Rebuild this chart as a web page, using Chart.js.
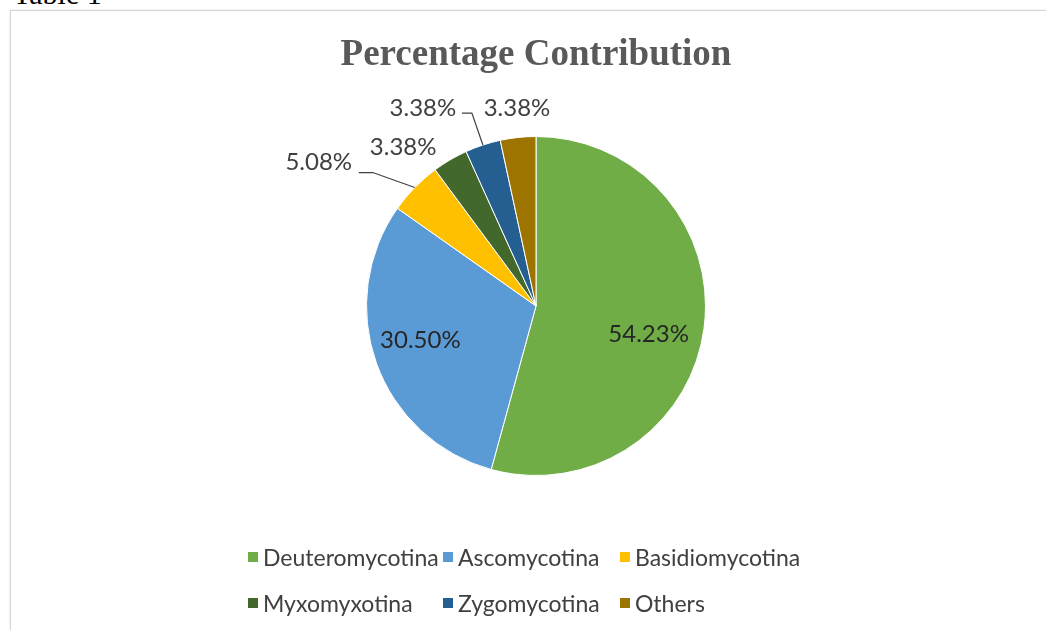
<!DOCTYPE html>
<html>
<head>
<meta charset="utf-8">
<script src="https://cdn.jsdelivr.net/npm/chart.js@4"></script>
<style>
  body { margin: 0; background: #fff; overflow: hidden; }
  #wrap { position: relative; width: 1046px; height: 630px; }
  #caption { position: absolute; left: 13px; top: -23px; font: 30px "Liberation Serif", serif; color: #000; }
  #frame { position: absolute; left: 10px; top: 10px; width: 1060px; height: 660px; border: 1.5px solid #d4d4d4; box-shadow: 0 0 2px #e4e4e4; }
  #pie { position: absolute; left: 0; top: 0; }
  .leg { position: absolute; display: flex; align-items: center; font: 23px Lato, sans-serif; color: #404040; white-space: nowrap; }
  .leg span.box { display: inline-block; width: 10px; height: 10px; margin-right: 5px; }
</style>
</head>
<body>
<div id="wrap">
  <div id="caption">Table 1</div>
  <div id="frame"></div>
  <canvas id="pie" width="1046" height="630"></canvas>
</div>
<script>
const labels = ["Deuteromycotina", "Ascomycotina", "Basidiomycotina", "Myxomyxotina", "Zygomycotina", "Others"];
const values = [54.23, 30.50, 5.08, 3.38, 3.38, 3.38];
const colors = ["#70AD47", "#5B9BD5", "#FFC000", "#43682B", "#255E91", "#9E7400"];

// where each value label sits, measured from the slice
// inside: fraction of radius; outside: offset from the edge point, plus leader line
const labelPlace = [
  { inside: 0.70, dx: -5, dy: 12 },
  { inside: 0.70, dx: -4, dy: -6 },
  { dx: -96, dy: -25, leader: [[-42, -15], [-56, -15]] },
  { dx: -47, dy: -13 },
  { dx: -60, dy: -37, leader: [[-11, -32], [-21, -32]] },
  { dx: -1, dy: -29 }
];

const valueLabels = {
  id: 'valueLabels',
  afterDatasetsDraw(chart) {
    const ctx = chart.ctx;
    const arcs = chart.getDatasetMeta(0).data;
    ctx.save();
    ctx.font = '24px Lato, sans-serif';
    ctx.textAlign = 'center';
    ctx.textBaseline = 'middle';
    arcs.forEach((arc, i) => {
      const p = arc.getProps(['x', 'y', 'startAngle', 'endAngle', 'outerRadius']);
      const mid = (p.startAngle + p.endAngle) / 2;
      const place = labelPlace[i];
      const text = values[i].toFixed(2) + '%';
      if (place.inside) {
        const r = p.outerRadius * place.inside;
        ctx.fillStyle = '#262626';
        ctx.fillText(text, p.x + r * Math.cos(mid) + place.dx, p.y + r * Math.sin(mid) + place.dy);
        return;
      }
      const ex = p.x + p.outerRadius * Math.cos(mid);
      const ey = p.y + p.outerRadius * Math.sin(mid);
      if (place.leader) {
        ctx.strokeStyle = '#404040';
        ctx.lineWidth = 1.2;
        ctx.beginPath();
        ctx.moveTo(ex, ey);
        place.leader.forEach(pt => ctx.lineTo(ex + pt[0], ey + pt[1]));
        ctx.stroke();
      }
      ctx.fillStyle = '#404040';
      ctx.fillText(text, ex + place.dx, ey + place.dy);
    });
    ctx.restore();
  }
};

const chart = new Chart(document.getElementById('pie'), {
  type: 'pie',
  data: {
    labels: labels,
    datasets: [{
      data: values,
      backgroundColor: colors,
      borderColor: '#ffffff',
      borderWidth: 1
    }]
  },
  options: {
    responsive: false,
    animation: false,
    layout: { padding: { top: 33, bottom: 154, left: 26, right: 0 } },
    plugins: {
      legend: { display: false },
      tooltip: { enabled: false },
      title: {
        display: true,
        text: 'Percentage Contribution',
        color: '#595959',
        font: { family: '"Liberation Serif", serif', size: 37, weight: 'bold', lineHeight: 1.2 },
        padding: { top: 0, bottom: 58.6 }
      }
    }
  },
  plugins: [valueLabels]
});

// legend in two rows of three, like the original
const legCols = [248, 443, 620];
const legRows = [557, 603];
labels.forEach((name, i) => {
  const el = document.createElement('div');
  el.className = 'leg';
  el.style.left = legCols[i % 3] + 'px';
  el.style.top = (legRows[Math.floor(i / 3)] - 14) + 'px';
  el.style.height = '28px';
  el.innerHTML = '<span class="box" style="background:' + colors[i] + '"></span>' + name;
  document.getElementById('wrap').appendChild(el);
});
</script>
</body>
</html>
